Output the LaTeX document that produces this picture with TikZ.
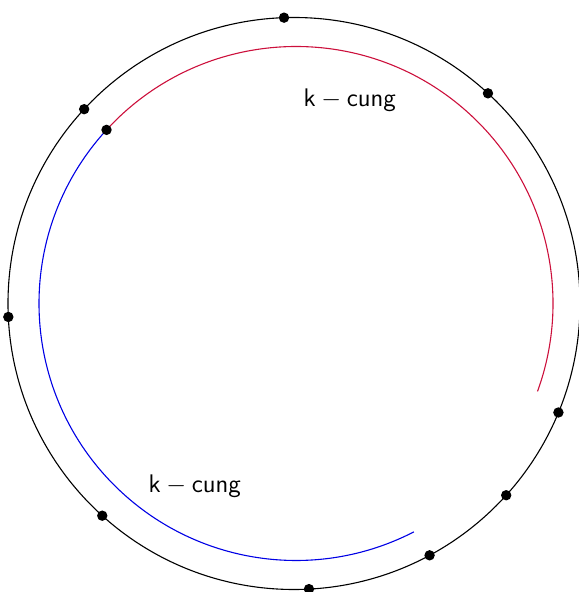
\documentclass[tikz,border=0pt]{standalone}
\usepackage{amsmath}
\usepackage{xcolor}
\usepackage{tikz}
\usetikzlibrary{calc}

\definecolor{arcred}{RGB}{204,16,60}

\begin{document}
\begin{tikzpicture}[
  x=0.5pt, y=0.5pt,
  font=\large,
  line width=0.55pt,
  dot/.style={circle, fill=black, inner sep=0pt, minimum size=5.2pt},
  ring/.style={draw=black},
  redarc/.style={draw=arcred},
  bluearc/.style={draw=blue!90!black},
  lbl/.style={inner sep=2pt, scale=1.06, transform shape}
]
\useasboundingbox (-294,-288.5) rectangle (284,303.5);
\coordinate (o) at (0,0);
\coordinate (c) at (2,0);
\draw[ring] (o) circle[radius=286];
% points on the outer circle
\foreach \a [count=\i] in {92,47.3,137.2,182.7,-22.4,-42.1,-61.7,-87,-132.1}
  \node[dot] (v\i) at ($(o)+(\a:286)$) {};
% the two arcs start from the same point
\coordinate (w) at ($(c)+(137.5:257)$);
\draw[redarc] (w) arc[start angle=137.5, end angle=-20, radius=257]
  coordinate (rend);
\draw[bluearc] (w) arc[start angle=137.5, end angle=297.3, radius=257]
  coordinate (bend);
\node[dot] (wdot) at (w) {};
\node[lbl] (ktop) at (56,203) {$\mathsf{k-cung}$};
\node[lbl] (kbot) at (-99,-183) {$\mathsf{k-cung}$};
\end{tikzpicture}
\end{document}
